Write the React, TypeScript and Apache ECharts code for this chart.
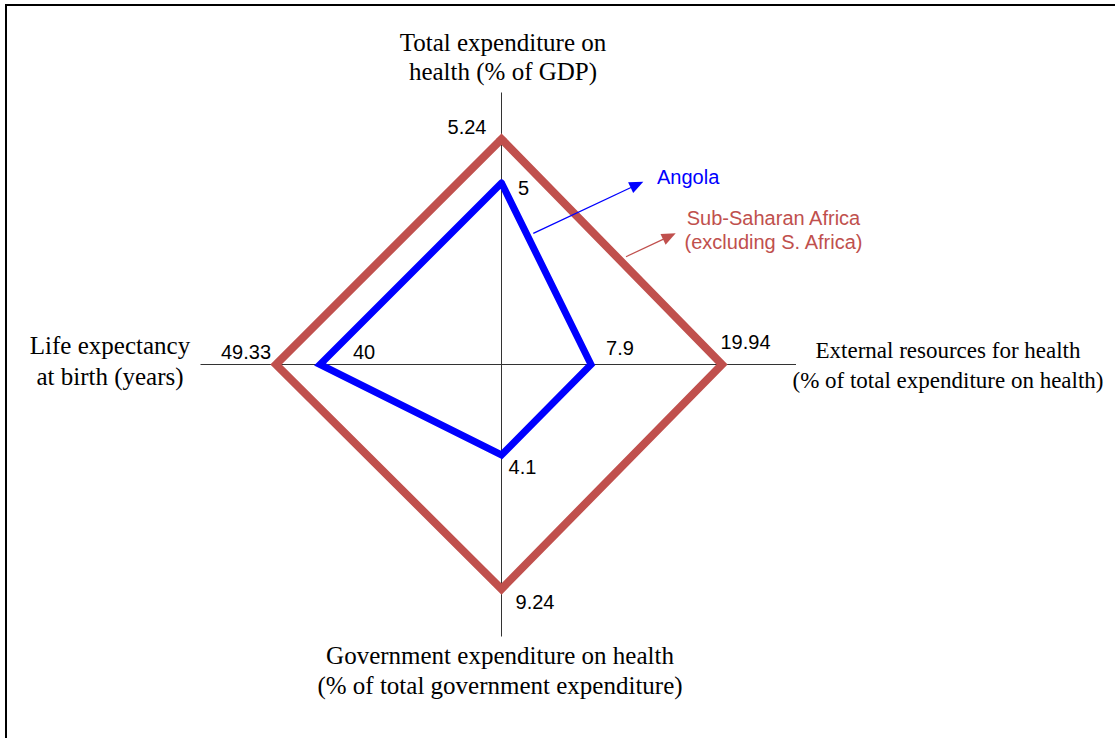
import React, { useEffect, useRef } from 'react';
import * as echarts from 'echarts';

// ---- data ----
const indicatorNames = [
  'Total expenditure on\nhealth (% of GDP)',
  'Life expectancy\nat birth (years)',
  'Government expenditure on health\n(% of total government expenditure)',
  'External resources for health\n(% of total expenditure on health)',
];
const axisMin = [4.01, 1.514, 0.629, -0.326];
const axisMax = [5.494, 59.19, 11.062, 24.674];
const seriesNames = ['Angola', 'Sub-Saharan Africa\n(excluding S. Africa)'];
const angolaValues = [5, 40, 4.1, 7.9];
const subSaharanValues = [5.24, 49.33, 9.24, 19.94];

// ---- layout ----
const CX = 501.5;
const CY = 364.5;
const R = 272;
const angolaLabelOffset = [[22, 5], [44, -12.5], [21, 12], [29, -17]];
const ssaLabelOffset = [[-34.5, -12], [-30, -12.5], [33.5, 12.7], [23.5, -23]];
const BLUE = '#0000FF';
const RED = '#C0504D';
const SERIF = '"Liberation Serif", "Times New Roman", serif';
const SANS = '"Liberation Sans", Arial, sans-serif';

function labelItems(values: number[], offsets: number[][]) {
  return values.map((v, i) => ({
    value: values.map((w, j) => (j === i ? w : '-')),
    label: {
      show: true,
      position: 'inside',
      offset: offsets[i],
      color: '#000',
      fontFamily: SANS,
      fontSize: 20,
    },
  }));
}

export default function App() {
  const ref = useRef<HTMLDivElement>(null);
  useEffect(() => {
    if (!ref.current) return;
    const chart = echarts.init(ref.current, null, { renderer: 'svg' });
    const nameText = (text: string, x: number, y: number, size: number, lh: number) => ({
      type: 'text',
      z: 50,
      style: {
        text,
        x,
        y,
        fill: '#000',
        font: `${size}px ${SERIF}`,
        align: 'center',
        verticalAlign: 'middle',
        lineHeight: lh,
      },
    });
    chart.setOption({
      animation: false,
      backgroundColor: '#fff',
      radar: {
        center: [CX, CY],
        radius: R,
        startAngle: 90,
        indicator: indicatorNames.map((n, i) => ({ name: n, min: axisMin[i], max: axisMax[i] })),
        axisName: { show: false },
        axisLine: { show: false },
        splitLine: { show: false },
        splitArea: { show: false },
        axisTick: { show: false },
        axisLabel: { show: false },
      },
      series: [
        {
          type: 'radar',
          name: 'lines',
          symbol: 'none',
          z: 2,
          data: [
            {
              name: seriesNames[1],
              value: subSaharanValues,
              lineStyle: { color: RED, width: 8, join: 'miter', cap: 'square' },
            },
            {
              name: seriesNames[0],
              value: angolaValues,
              lineStyle: { color: BLUE, width: 7, join: 'miter', cap: 'round' },
            },
          ],
        },
        {
          type: 'radar',
          name: 'labels',
          symbol: 'circle',
          symbolSize: 1,
          z: 3,
          itemStyle: { color: 'rgba(0,0,0,0)' },
          lineStyle: { opacity: 0, width: 0 },
          data: [
            ...labelItems(subSaharanValues, ssaLabelOffset),
            ...labelItems(angolaValues, angolaLabelOffset),
          ],
        },
      ],
      graphic: [
        {
          type: 'rect',
          z: 0,
          shape: { x: 6, y: 5, width: 1140, height: 760 },
          style: { fill: 'none', stroke: '#000', lineWidth: 2 },
        },
        {
          type: 'line',
          z: 1,
          shape: { x1: CX, y1: CY - R, x2: CX, y2: CY + R },
          style: { stroke: '#333', lineWidth: 1 },
        },
        {
          type: 'line',
          z: 1,
          shape: { x1: 200.5, y1: CY, x2: 796, y2: CY },
          style: { stroke: '#333', lineWidth: 1 },
        },
        nameText(indicatorNames[0], 503, 57, 25, 29),
        nameText(indicatorNames[1], 110, 361, 25, 31),
        nameText(indicatorNames[2], 500, 670, 25, 30),
        nameText(indicatorNames[3], 948, 365, 23, 30),
        {
          type: 'text',
          z: 50,
          style: {
            text: seriesNames[0],
            x: 657,
            y: 177,
            fill: BLUE,
            font: `20px ${SANS}`,
            align: 'left',
            verticalAlign: 'middle',
          },
        },
        {
          type: 'text',
          z: 50,
          style: {
            text: seriesNames[1],
            x: 773.5,
            y: 230,
            fill: RED,
            font: `20px ${SANS}`,
            align: 'center',
            verticalAlign: 'middle',
            lineHeight: 23.5,
          },
        },
        {
          type: 'line',
          z: 100,
          shape: { x1: 533.3, y1: 233.3, x2: 631, y2: 187.5 },
          style: { stroke: BLUE, lineWidth: 1.3 },
        },
        {
          type: 'polygon',
          z: 100,
          shape: { points: [[643.3, 181.7], [633.2, 193.1], [628.1, 182.2]] },
          style: { fill: BLUE },
        },
        {
          type: 'line',
          z: 100,
          shape: { x1: 626, y1: 256.7, x2: 663.5, y2: 239.1 },
          style: { stroke: RED, lineWidth: 1.2 },
        },
        {
          type: 'polygon',
          z: 100,
          shape: { points: [[675.7, 233.3], [665.6, 244.7], [660.5, 233.9]] },
          style: { fill: RED },
        },
      ],
    });
    return () => chart.dispose();
  }, []);
  return (
    <div
      ref={ref}
      style={{ position: 'absolute', left: 0, top: 0, width: 1115, height: 738 }}
    />
  );
}
